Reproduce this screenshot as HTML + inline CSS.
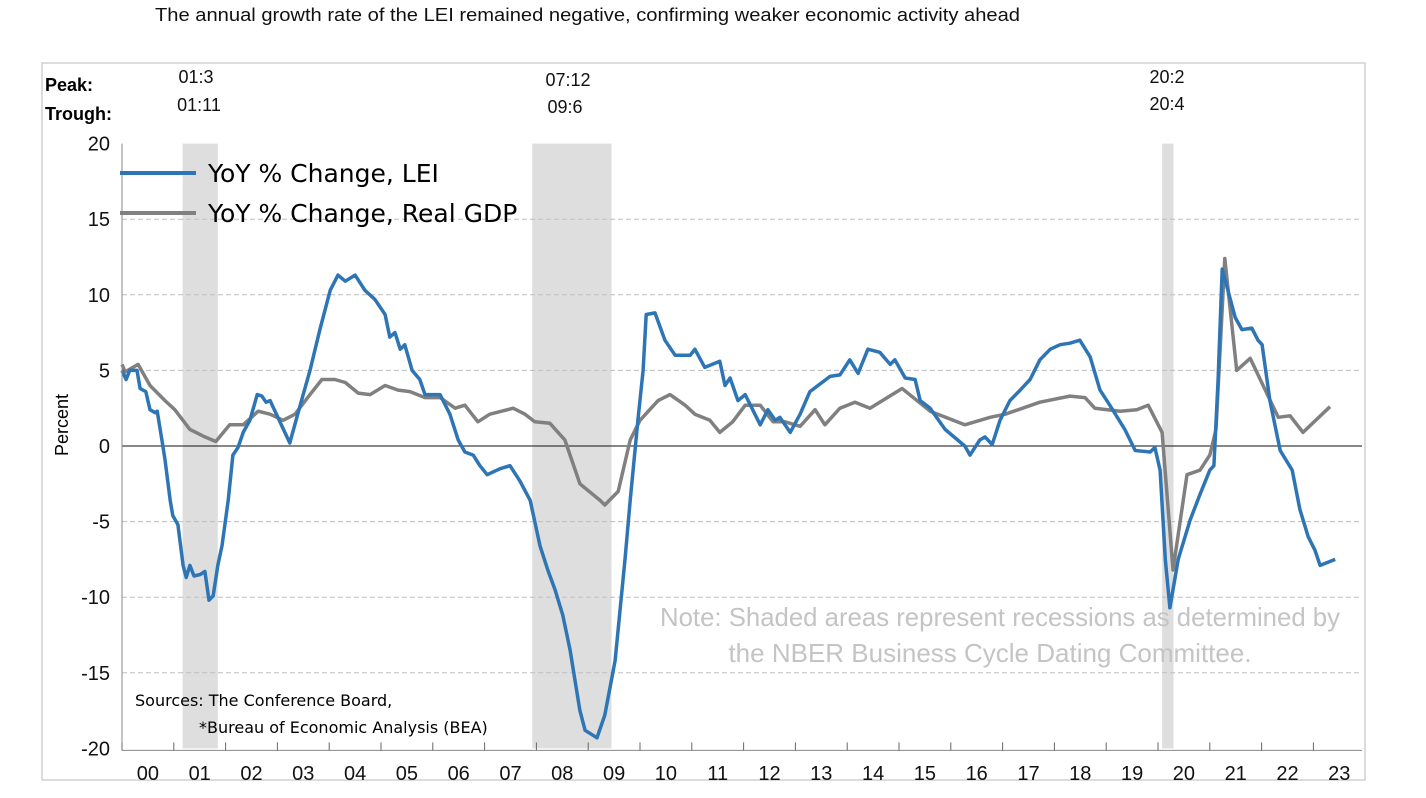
<!DOCTYPE html>
<html><head><meta charset="utf-8"><style>
body{margin:0;background:#fff;width:1426px;height:793px;overflow:hidden;font-family:"Liberation Sans",sans-serif}
</style></head><body>
<svg id="chart" width="1426" height="793" xmlns="http://www.w3.org/2000/svg" font-family="Liberation Sans, sans-serif">
<text x="155" y="21" font-size="18" fill="#111" textLength="865" lengthAdjust="spacingAndGlyphs">The annual growth rate of the LEI remained negative, confirming weaker economic activity ahead</text>
<rect x="42" y="63" width="1323" height="717" fill="none" stroke="#d0d0d0" stroke-width="1.5"/>
<g id="recessions"></g>
<g id="grid"></g>
<g id="series"></g>
<g id="axes"></g>
<text x="45" y="91" font-size="18" font-weight="bold">Peak:</text>
<text x="45" y="120" font-size="18" font-weight="bold">Trough:</text>
<g font-size="18" text-anchor="middle" fill="#111">
<text x="196" y="83">01:3</text>
<text x="199" y="111">01:11</text>
<text x="568" y="86">07:12</text>
<text x="565" y="113">09:6</text>
<text x="1167" y="83">20:2</text>
<text x="1167" y="110">20:4</text>
</g>
<text transform="translate(68,425) rotate(-90)" font-size="18" text-anchor="middle">Percent</text>
<line x1="120" y1="173" x2="196" y2="173" stroke="#2e75b6" stroke-width="4"/>
<text x="208" y="182" font-size="25" font-family="DejaVu Sans, sans-serif">YoY % Change, LEI</text>
<line x1="120" y1="213" x2="196" y2="213" stroke="#808080" stroke-width="4"/>
<text x="208" y="222" font-size="25" font-family="DejaVu Sans, sans-serif">YoY % Change, Real GDP</text>
<text x="660" y="626" font-size="26" fill="#c4c4c4" textLength="680" lengthAdjust="spacingAndGlyphs">Note: Shaded areas represent recessions as determined by</text>
<text x="990" y="662" font-size="26" fill="#c4c4c4" text-anchor="middle">the NBER Business Cycle Dating Committee.</text>
<text x="135" y="706" font-size="16" font-family="DejaVu Sans, sans-serif">Sources: The Conference Board,</text>
<text x="199" y="733" font-size="16" font-family="DejaVu Sans, sans-serif">*Bureau of Economic Analysis (BEA)</text>
</svg>
<script>
const yTicks=[20,15,10,5,0,-5,-10,-15,-20];
const yearLabels=["00","01","02","03","04","05","06","07","08","09","10","11","12","13","14","15","16","17","18","19","20","21","22","23"];
const recStart=[2001.17,2007.92,2020.08];
const recEnd=[2001.85,2009.45,2020.3];
const leiDates=[2000.00,2000.08,2000.15,2000.29,2000.35,2000.46,2000.54,2000.64,2000.68,2000.77,2000.83,2000.93,2000.98,2001.08,2001.18,2001.24,2001.31,2001.39,2001.51,2001.60,2001.68,2001.76,2001.85,2001.93,2002.05,2002.14,2002.24,2002.34,2002.47,2002.61,2002.70,2002.78,2002.86,2003.24,2003.44,2003.63,2003.82,2004.02,2004.17,2004.31,2004.50,2004.69,2004.88,2005.08,2005.17,2005.27,2005.37,2005.46,2005.60,2005.75,2005.85,2006.14,2006.33,2006.49,2006.62,2006.78,2006.91,2007.05,2007.30,2007.49,2007.68,2007.88,2008.07,2008.22,2008.36,2008.51,2008.65,2008.84,2008.94,2009.17,2009.32,2009.52,2009.71,2009.81,2009.96,2010.06,2010.12,2010.29,2010.48,2010.68,2010.97,2011.06,2011.25,2011.54,2011.64,2011.74,2011.89,2012.03,2012.32,2012.47,2012.61,2012.70,2012.90,2013.09,2013.28,2013.67,2013.86,2014.05,2014.21,2014.40,2014.63,2014.83,2014.92,2015.12,2015.31,2015.41,2015.60,2015.89,2016.27,2016.37,2016.56,2016.66,2016.80,2016.95,2017.14,2017.34,2017.53,2017.72,2017.92,2018.11,2018.30,2018.49,2018.69,2018.88,2019.07,2019.36,2019.56,2019.85,2019.94,2020.04,2020.14,2020.23,2020.39,2020.62,2020.81,2021.00,2021.08,2021.16,2021.24,2021.35,2021.49,2021.62,2021.81,2021.93,2022.01,2022.16,2022.36,2022.59,2022.74,2022.90,2023.03,2023.13,2023.42];
const leiValues=[5.0,4.4,5.0,5.0,3.8,3.6,2.4,2.2,2.3,0.4,-0.9,-3.6,-4.6,-5.2,-7.9,-8.7,-7.9,-8.6,-8.5,-8.3,-10.2,-9.9,-7.9,-6.6,-3.6,-0.6,-0.1,0.9,1.7,3.4,3.3,2.9,3.0,0.2,2.7,5.0,7.7,10.3,11.3,10.9,11.3,10.3,9.7,8.7,7.2,7.5,6.4,6.7,5.0,4.4,3.4,3.4,2.1,0.4,-0.4,-0.6,-1.3,-1.9,-1.5,-1.3,-2.3,-3.6,-6.6,-8.2,-9.5,-11.2,-13.5,-17.5,-18.8,-19.3,-17.8,-14.2,-7.5,-3.6,1.7,5.0,8.7,8.8,7.0,6.0,6.0,6.4,5.2,5.6,4.0,4.5,3.0,3.4,1.4,2.4,1.7,1.9,0.9,2.1,3.6,4.6,4.7,5.7,4.8,6.4,6.2,5.4,5.7,4.5,4.4,3.0,2.5,1.1,0.0,-0.6,0.4,0.6,0.1,1.7,3.0,3.7,4.4,5.7,6.4,6.7,6.8,7.0,5.9,3.7,2.7,1.1,-0.3,-0.4,-0.1,-1.6,-7.5,-10.7,-7.5,-4.9,-3.2,-1.6,-1.3,4.4,11.7,10.3,8.5,7.7,7.8,7.0,6.7,3.0,-0.3,-1.6,-4.2,-6.0,-6.9,-7.9,-7.5];
const gdpDates=[2000.00,2000.06,2000.31,2000.54,2000.83,2001.02,2001.31,2001.60,2001.81,2002.08,2002.34,2002.63,2002.86,2003.11,2003.34,2003.63,2003.86,2004.11,2004.31,2004.56,2004.79,2005.08,2005.33,2005.56,2005.85,2006.14,2006.43,2006.62,2006.87,2007.10,2007.55,2007.78,2007.97,2008.26,2008.55,2008.84,2009.23,2009.32,2009.58,2009.81,2010.00,2010.35,2010.58,2010.87,2011.06,2011.35,2011.54,2011.79,2012.03,2012.32,2012.57,2012.80,2013.09,2013.38,2013.57,2013.86,2014.15,2014.44,2015.06,2015.60,2016.27,2016.76,2017.05,2017.72,2018.30,2018.59,2018.78,2019.27,2019.59,2019.81,2020.08,2020.29,2020.56,2020.81,2021.00,2021.12,2021.29,2021.52,2021.78,2022.32,2022.55,2022.80,2023.32];
const gdpValues=[5.4,4.9,5.4,4.0,3.0,2.4,1.1,0.6,0.3,1.4,1.4,2.3,2.1,1.7,2.1,3.4,4.4,4.4,4.2,3.5,3.4,4.0,3.7,3.6,3.2,3.2,2.5,2.7,1.6,2.1,2.5,2.1,1.6,1.5,0.4,-2.5,-3.6,-3.9,-3.0,0.4,1.7,3.0,3.4,2.7,2.1,1.7,0.9,1.6,2.7,2.7,1.6,1.6,1.3,2.4,1.4,2.5,2.9,2.5,3.8,2.3,1.4,1.9,2.1,2.9,3.3,3.2,2.5,2.3,2.4,2.7,0.9,-8.2,-1.9,-1.6,-0.6,1.1,12.4,5.0,5.8,1.9,2.0,0.9,2.6];

const NS='http://www.w3.org/2000/svg';
const X0=122,X1=1362;
const xs=t=>122+(t-2000)*51.8;
const ys=v=>446-v*15.12;
function mk(tag,attrs,parent){const e=document.createElementNS(NS,tag);for(const k in attrs)e.setAttribute(k,attrs[k]);document.getElementById(parent).appendChild(e);return e;}

recStart.forEach((s,i)=>{
  const r=mk('rect',{x:xs(s),y:ys(20),width:xs(recEnd[i])-xs(s),height:ys(-20)-ys(20),fill:'#dedede'},'recessions');
  
  
});
yTicks.forEach(v=>{
  if(v!==0&&v!==20&&v!==-20){
    const l=mk('line',{x1:X0,x2:X1,y1:ys(v),y2:ys(v),stroke:'#bdbdbd','stroke-dasharray':'5,3'},'grid');
    
    
  }
  const t=mk('text',{x:110,y:ys(v)+7,'font-size':20,'text-anchor':'end',fill:'#111'},'axes');
  t.textContent=v;
  
  
});
const z=mk('line',{x1:X0,x2:X1,y1:ys(0),y2:ys(0),stroke:'#111','stroke-width':1},'grid');


const xa=mk('line',{x1:X0,x2:X1,y1:ys(-20)+2,y2:ys(-20)+2,stroke:'#888'},'axes');


const ya=mk('line',{x1:X0,x2:X0,y1:ys(20),y2:ys(-20)+2,stroke:'#888'},'axes');


yearLabels.forEach((lab,i)=>{
  const tk=mk('line',{x1:xs(2000+i),x2:xs(2000+i),y1:ys(-20)-6,y2:ys(-20)+2,stroke:'#666'},'axes');
  
  
  const t=mk('text',{x:xs(2000.5+i),y:780,'font-size':20,'text-anchor':'middle',fill:'#111'},'axes');
  t.textContent=lab;
  
  
});
function line(d,v,color,name){
  const p=mk('polyline',{points:d.map((t,i)=>xs(t).toFixed(1)+','+ys(v[i]).toFixed(1)).join(' '),fill:'none',stroke:color,'stroke-width':3.5,'stroke-linejoin':'round'},'series');
  
  
}
line(gdpDates,gdpValues,'#808080','gdp-line');
line(leiDates,leiValues,'#2e75b6','lei-line');
</script>
</body></html>
